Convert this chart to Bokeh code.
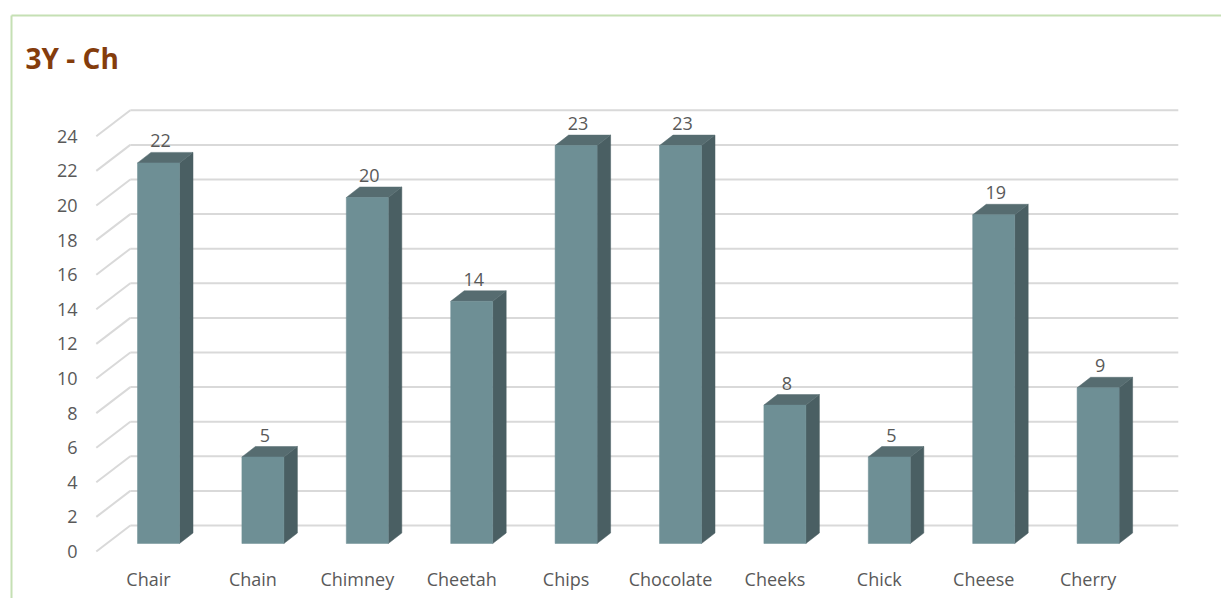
from bokeh.plotting import figure
from bokeh.models import ColumnDataSource, Range1d
from bokeh.core.properties import value
from bokeh.embed import file_html
from bokeh.resources import INLINE

# ---- data -------------------------------------------------------------
title_text = "3Y - Ch"
categories = ["Chair", "Chain", "Chimney", "Cheetah", "Chips",
              "Chocolate", "Cheeks", "Chick", "Cheese", "Cherry"]
counts = [22, 5, 20, 14, 23, 23, 8, 5, 19, 9]
y_ticks = [0, 2, 4, 6, 8, 10, 12, 14, 16, 18, 20, 22, 24]

# ---- layout constants (pixels) ----------------------------------------
W, H = 1221, 598
X0, SX = 148.0, 104.4      # front-plane x of category 0, px per category
Y0, SY = 551.0, 17.3       # front-plane y of value 0, px per unit

FONT = value("Open Sans")
GRID = "#D9D9D9"
LABEL = "#595959"
FRONT, SIDE, TOP = "#6E8F95", "#4A5F63", "#566C70"


def dx(px):
    return px / SX


def dy(px):
    # screen offset (down positive) -> data offset
    return -px / SY


# oblique depth offsets
BAR_SHIFT = (dx(10), dy(-8))          # bar front face relative to front plane
BAR_DEPTH = (dx(13.5), dy(-10.5))     # bar front -> bar back
WALL = (dx(34), dy(-26))              # front plane -> back wall
HALF = dx(21)                         # half bar width

p = figure(width=W, height=H, output_backend="svg", toolbar_location=None,
           x_range=Range1d((0 - X0) / SX, (W - X0) / SX),
           y_range=Range1d((Y0 - H) / SY, Y0 / SY),
           x_axis_location=None, y_axis_location=None,
           min_border=0, title=None)
p.outline_line_color = None
p.background_fill_color = "white"
p.border_fill_color = "white"
p.xgrid.visible = False
p.ygrid.visible = False

# ---- frame of the chart area (light green) ----------------------------
left_px, top_px = 11, 15
xl_frame = (left_px - X0) / SX
yt_frame = (Y0 - top_px) / SY
p.segment(x0=[xl_frame, xl_frame], y0=[yt_frame, yt_frame],
          x1=[(W + 5 - X0) / SX, xl_frame], y1=[yt_frame, (Y0 - H - 5) / SY],
          line_color="#C5E0B4", line_width=2)

# ---- gridlines: back wall + receding lines on the left -----------------
x_left = -0.5
x_right = len(categories) - 0.5 + dx(4)
grid_src = ColumnDataSource(dict(
    bx0=[x_left + WALL[0]] * len(y_ticks),
    bx1=[x_right + WALL[0]] * len(y_ticks),
    by=[t + WALL[1] for t in y_ticks],
    fx=[x_left] * len(y_ticks),
    fy=list(y_ticks),
))
p.segment(x0="bx0", y0="by", x1="bx1", y1="by", source=grid_src,
          line_color=GRID, line_width=2)
p.segment(x0="fx", y0="fy", x1="bx0", y1="by", source=grid_src,
          line_color=GRID, line_width=2)

# ---- 3-D columns -------------------------------------------------------
front_xs, front_ys, side_xs, side_ys, top_xs, top_ys = [], [], [], [], [], []
for i, v in enumerate(counts):
    xl = i + BAR_SHIFT[0] - HALF
    xr = i + BAR_SHIFT[0] + HALF
    yb = 0 + BAR_SHIFT[1]
    yt = v + BAR_SHIFT[1]
    ddx, ddy = BAR_DEPTH
    front_xs.append([xl, xr, xr, xl])
    front_ys.append([yb, yb, yt, yt])
    side_xs.append([xr, xr + ddx, xr + ddx, xr])
    side_ys.append([yb, yb + ddy, yt + ddy, yt])
    top_xs.append([xl, xr, xr + ddx, xl + ddx])
    top_ys.append([yt, yt, yt + ddy, yt + ddy])

p.patches(side_xs, side_ys, fill_color=SIDE, line_color=SIDE, line_width=0.5)
p.patches(top_xs, top_ys, fill_color=TOP, line_color=TOP, line_width=0.5)
p.patches(front_xs, front_ys, fill_color=FRONT, line_color=FRONT, line_width=0.5)

# ---- value labels above the columns -----------------------------------
val_src = ColumnDataSource(dict(
    x=[i + dx(12) for i in range(len(counts))],
    y=[v + dy(-30) for v in counts],
    t=[str(v) for v in counts],
))
p.text(x="x", y="y", text="t", source=val_src, text_font=FONT,
       text_font_size="18px", text_color=LABEL,
       text_align="center", text_baseline="middle")

# ---- value axis labels (front plane) ----------------------------------
tick_src = ColumnDataSource(dict(
    x=[(77 - X0) / SX] * len(y_ticks),
    y=list(y_ticks),
    t=[str(t) for t in y_ticks],
))
p.text(x="x", y="y", text="t", source=tick_src, text_font=FONT,
       text_font_size="18px", text_color=LABEL,
       text_align="right", text_baseline="middle")

# ---- category labels --------------------------------------------------
cat_src = ColumnDataSource(dict(
    x=list(range(len(categories))),
    y=[(Y0 - 578) / SY] * len(categories),
    t=categories,
))
p.text(x="x", y="y", text="t", source=cat_src, text_font=FONT,
       text_font_size="18px", text_color=LABEL,
       text_align="center", text_baseline="middle")

# ---- title ------------------------------------------------------------
p.text(x=[(25 - X0) / SX], y=[(Y0 - 57) / SY], text=[title_text],
       text_font=FONT, text_font_size="28px", text_font_style="bold",
       text_color="#843C0C", text_align="left", text_baseline="middle")

open("out.html", "w").write(file_html(p, INLINE))
